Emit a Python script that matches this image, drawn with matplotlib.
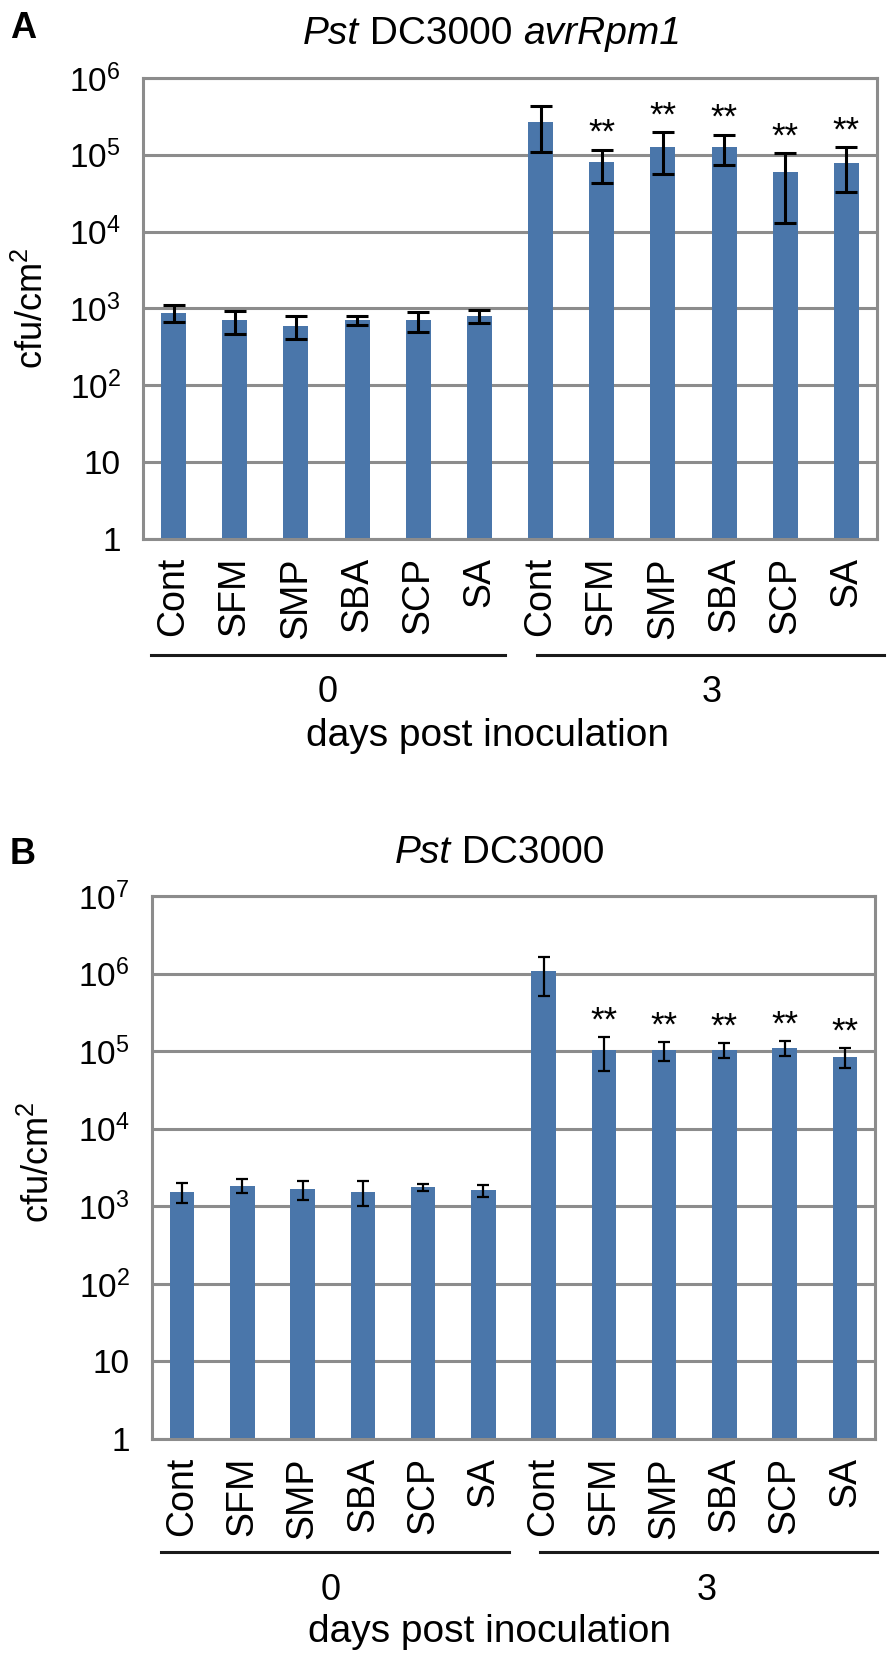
import matplotlib
matplotlib.use("Agg")
import matplotlib.pyplot as plt
import numpy as np

plt.rcParams['font.family'] = ['Liberation Sans', 'DejaVu Sans']
plt.rcParams['mathtext.fontset'] = 'custom'
plt.rcParams['mathtext.rm'] = 'Liberation Sans'
plt.rcParams['mathtext.it'] = 'Liberation Sans:italic'

## ======= data

treatments = ['Cont', 'SFM', 'SMP', 'SBA', 'SCP', 'SA']
days = ['0', '3']
ytick_vals_A = [1, 10, 1e2, 1e3, 1e4, 1e5, 1e6]
ytick_vals_B = [1, 10, 1e2, 1e3, 1e4, 1e5, 1e6, 1e7]
ytick_labels_A = ['1', '10', '10$^2$', '10$^3$', '10$^4$', '10$^5$', '10$^6$']
ytick_labels_B = ['1', '10', '10$^2$', '10$^3$', '10$^4$', '10$^5$', '10$^6$', '10$^7$']

# titles as (text, italic) pieces
title_A = [('Pst', True), (' DC3000 ', False), ('avrRpm1', True)]
title_B = [('Pst', True), (' DC3000', False)]

# Pst DC3000 avrRpm1 (panel A)
A_day0_mean = [880, 700, 600, 700, 700, 800]
A_day0_sd = [220, 240, 195, 95, 200, 150]
A_day3_mean = [2.7e5, 8.0e4, 1.27e5, 1.27e5, 5.9e4, 7.9e4]
A_day3_sd = [1.6e5, 3.7e4, 7.0e4, 5.4e4, 4.6e4, 4.6e4]
A_sig = ['', '', '', '', '', '', '', '**', '**', '**', '**', '**']

# Pst DC3000 (panel B)
B_day0_mean = [1550, 1850, 1650, 1550, 1750, 1600]
B_day0_sd = [450, 380, 450, 550, 180, 300]
B_day3_mean = [1.08e6, 1.03e5, 1.02e5, 1.04e5, 1.10e5, 8.5e4]
B_day3_sd = [5.6e5, 4.8e4, 2.8e4, 2.3e4, 2.4e4, 2.4e4]
B_sig = ['', '', '', '', '', '', '', '**', '**', '**', '**', '**']

# colors
bar_color = '#4A76AA'
grid_color = '#8C8C8C'

W, H = 892, 1667
fig = plt.figure(figsize=(W / 100, H / 100), dpi=100)
renderer = fig.canvas.get_renderer()


def px(x, y):
    # pixel position (from top-left) -> figure fraction
    return x / W, 1 - y / H


def mixed_title(pieces, xc, yb, size):
    # lay out italic / upright pieces side by side, centred on xc
    texts = [fig.text(0, 0, s, fontsize=size, fontstyle='italic' if it else 'normal',
                      ha='left', va='baseline') for s, it in pieces]
    widths = [t.get_window_extent(renderer).width for t in texts]
    x = xc - sum(widths) / 2
    for t, w in zip(texts, widths):
        t.set_position(px(x, yb))
        x += w


def draw_panel(box, means, sds, sig, yvals, ylabels, elw, cap, letter, title, letter_xy,
               title_xy, ylab_xy, bracket_y, brackets, day_xy, dpi_xy):
    left, top, right, bottom = box
    ax = fig.add_axes([left / W, 1 - bottom / H, (right - left) / W, (bottom - top) / H])
    x = np.arange(len(means))
    ax.bar(x, means, width=0.41, color=bar_color, zorder=2)
    ax.errorbar(x, means, yerr=sds, fmt='none', ecolor='black', elinewidth=elw,
                capsize=cap, capthick=elw, zorder=3)
    for xi, m, s, t in zip(x, means, sds, sig):
        if t:
            ax.annotate(t, (xi, m + s), xytext=(0, 5), textcoords='offset points',
                        ha='center', va='baseline', fontsize=25)
    ax.set_yscale('log')
    ax.set_ylim(yvals[0], yvals[-1])
    ax.set_xlim(-0.5, len(means) - 0.5)
    ax.set_yticks(yvals)
    ax.set_yticklabels(ylabels)
    ax.minorticks_off()
    ax.set_xticks(x)
    ax.set_xticklabels(treatments * 2, rotation=90, ha='center', va='top')
    ax.tick_params(axis='y', length=0, pad=16, labelsize=24)
    ax.tick_params(axis='x', length=0, pad=13, labelsize=27)
    ax.grid(axis='y', color=grid_color, lw=2.2, zorder=0)
    ax.set_axisbelow(True)
    for sp in ax.spines.values():
        sp.set_color(grid_color)
        sp.set_linewidth(2.2)

    fig.text(*px(*letter_xy), letter, fontsize=26, fontweight='bold', ha='left', va='baseline')
    mixed_title(title, title_xy[0], title_xy[1], 28)
    fig.text(*px(*ylab_xy), 'cfu/cm$^2$', fontsize=26, rotation=90, ha='center', va='center')
    for (x0, x1) in brackets:
        fig.add_artist(plt.Line2D([x0 / W, x1 / W], [1 - bracket_y / H] * 2,
                                  color='#1a1a1a', lw=2.2))
    for (dx, dy), d in zip(day_xy, days):
        fig.text(*px(dx, dy), d, fontsize=26, ha='center', va='baseline')
    fig.text(*px(*dpi_xy), 'days post inoculation', fontsize=28, ha='center', va='baseline')
    return ax


draw_panel((143, 78, 877, 539), A_day0_mean + A_day3_mean, A_day0_sd + A_day3_sd, A_sig,
           ytick_vals_A, ytick_labels_A, 2.2, 8, 'A', title_A,
           (10, 38), (492, 44), (33, 308), 655, [(151, 505), (537, 884)],
           [(328, 702), (712, 702)], (488, 746))

draw_panel((152, 896, 875, 1439), B_day0_mean + B_day3_mean, B_day0_sd + B_day3_sd, B_sig,
           ytick_vals_B, ytick_labels_B, 1.6, 4.5, 'B', title_B,
           (10, 864), (500, 863), (39, 1162), 1552, [(161, 509), (540, 877)],
           [(331, 1600), (707, 1600)], (490, 1642))

fig.savefig('out.png', dpi=100)
